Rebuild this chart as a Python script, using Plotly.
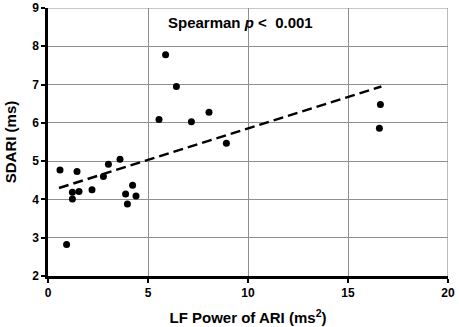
import plotly.graph_objects as go

lf_power = [0.6, 1.45, 3.02, 3.6, 2.77, 1.22, 1.55, 1.22, 2.2, 3.88, 4.23, 4.4, 3.97, 0.93,
            5.88, 6.42, 5.55, 7.17, 8.05, 8.92, 16.62, 16.57]
sdari = [4.77, 4.73, 4.92, 5.05, 4.60, 4.19, 4.21, 4.01, 4.25, 4.14, 4.37, 4.09, 3.88, 2.82,
         7.78, 6.95, 6.09, 6.03, 6.28, 5.47, 6.48, 5.86]
fit_x = [0.55, 16.67]
fit_y = [4.30, 6.95]
x_ticks = [0, 5, 10, 15, 20]
y_ticks = [2, 3, 4, 5, 6, 7, 8, 9]

FONT = "Liberation Sans, Arial, sans-serif"
GRID = "#8f8f8f"

fig = go.Figure()
fig.add_trace(go.Scatter(x=fit_x, y=fit_y, mode="lines",
                         line=dict(color="black", width=2.5, dash="10px,5px"),
                         hoverinfo="skip", showlegend=False))
fig.add_trace(go.Scatter(x=lf_power, y=sdari, mode="markers",
                         marker=dict(color="black", size=7), showlegend=False))

# outer grid lines at the last ticks (top and right edges)
fig.add_shape(type="line", xref="x", yref="paper", x0=x_ticks[-1], x1=x_ticks[-1], y0=0, y1=1,
              line=dict(color=GRID, width=1.2), layer="below")
fig.add_shape(type="line", xref="paper", yref="y", x0=0, x1=1, y0=y_ticks[-1], y1=y_ticks[-1],
              line=dict(color=GRID, width=1.2), layer="below")

axis_common = dict(ticks="outside", ticklen=4, tickwidth=2, tickcolor="black",
                   showline=True, linecolor="black", linewidth=2.5,
                   showgrid=True, gridcolor=GRID, gridwidth=1.2, zeroline=False,
                   automargin=False, ticklabeloverflow="allow",
                   tickfont=dict(size=12, family=FONT, weight="bold", color="black"))

fig.update_layout(
    template="none",
    width=459, height=327,
    margin=dict(l=48, r=11, t=8, b=51),
    plot_bgcolor="white", paper_bgcolor="white",
    font=dict(family=FONT, color="black"),
    xaxis=dict(range=[0, 20], tickvals=x_ticks,
               title=dict(text="<b>LF Power of ARI (ms<sup>2</sup>)</b>", font=dict(size=15), standoff=14),
               **axis_common),
    yaxis=dict(range=[2, 9], tickvals=y_ticks,
               title=dict(text="<b>SDARI (ms)</b>", font=dict(size=15), standoff=12),
               **axis_common),
    annotations=[dict(text="<b>Spearman <i>p</i> <  0.001</b>", x=0.48, y=0.985,
                      xref="paper", yref="paper", xanchor="center", yanchor="top",
                      showarrow=False, font=dict(size=15, family=FONT))],
)

fig.write_html("out.html", config={"displayModeBar": False},
               post_script="document.body.style.margin='0';document.body.style.overflow='hidden';")
